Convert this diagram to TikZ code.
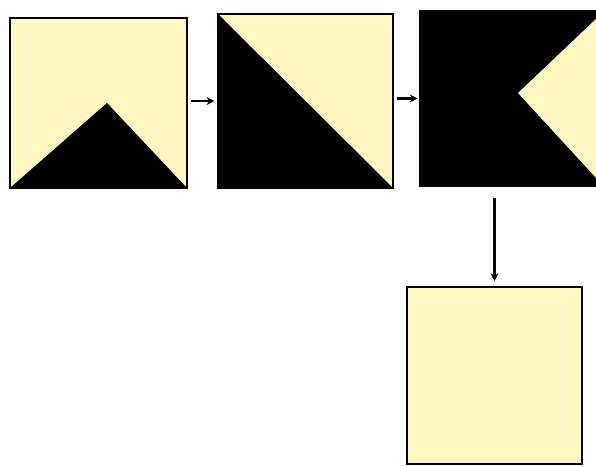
\documentclass[tikz,border=0pt]{standalone}
\usepackage{xcolor}
\usepackage{tikz}
\usetikzlibrary{arrows.meta}
\definecolor{paper}{RGB}{255,246,194}

\begin{document}
\begin{tikzpicture}[
  x=0.03cm, y=-0.03cm,
  tile/.style={draw,fill=paper,line width=2.4pt,inner sep=0pt,outer sep=0pt},
  arrow/.style={-{Stealth[length=2.4mm,width=2.4mm]},line width=1.8pt}
]
\useasboundingbox (0,0) rectangle (596,466);
\node[tile,minimum width=5.31cm,minimum height=5.1cm] (first) at (98.5,103) {};
\node[tile,minimum width=5.25cm,minimum height=5.22cm] (second) at (305.5,101) {};
\node[tile,fill=black,minimum width=5.34cm,minimum height=5.25cm] (third) at (509,98.5) {};
\node[tile,minimum width=5.25cm,minimum height=5.31cm] (last) at (494.5,375.5) {};
\fill (first.south west) -- (107,103) -- (first.south east) -- cycle;
\fill (second.north west) -- (second.south east) -- (second.south west) -- cycle;
\fill[paper] (598,17) -- (518,93) -- (598,180) -- cycle;
\draw[arrow,shorten <=3pt,shorten >=3pt] (first.east |- second.west) -- (second.west);
\draw[arrow,shorten <=3pt,shorten >=2pt] (second.east |- third.west) -- (third.west);
\draw[arrow,shorten <=10pt,shorten >=5pt] (third.south -| last.north) -- (last.north);
\end{tikzpicture}
\end{document}
